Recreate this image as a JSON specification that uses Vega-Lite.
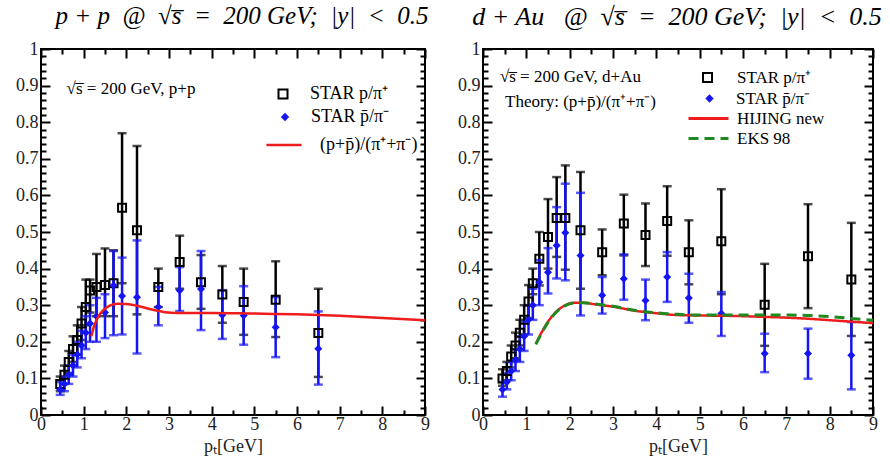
{
  "$schema": "https://vega.github.io/schema/vega-lite/v6.json",
  "background": "white",
  "padding": {"left": 14, "top": 3, "right": 5, "bottom": 5},
  "bounds": "flush",
  "spacing": 58,
  "datasets": {
    "ppBlack": [
      {"pt": 0.45, "r": 0.085, "lo": 0.065, "hi": 0.105, "series": "STAR p/π⁺"},
      {"pt": 0.55, "r": 0.11, "lo": 0.085, "hi": 0.135, "series": "STAR p/π⁺"},
      {"pt": 0.65, "r": 0.145, "lo": 0.115, "hi": 0.175, "series": "STAR p/π⁺"},
      {"pt": 0.75, "r": 0.18, "lo": 0.145, "hi": 0.215, "series": "STAR p/π⁺"},
      {"pt": 0.85, "r": 0.205, "lo": 0.165, "hi": 0.245, "series": "STAR p/π⁺"},
      {"pt": 0.95, "r": 0.25, "lo": 0.205, "hi": 0.295, "series": "STAR p/π⁺"},
      {"pt": 1.05, "r": 0.295, "lo": 0.245, "hi": 0.37, "series": "STAR p/π⁺"},
      {"pt": 1.15, "r": 0.34, "lo": 0.28, "hi": 0.37, "series": "STAR p/π⁺"},
      {"pt": 1.3, "r": 0.35, "lo": 0.27, "hi": 0.44, "series": "STAR p/π⁺"},
      {"pt": 1.5, "r": 0.355, "lo": 0.27, "hi": 0.455, "series": "STAR p/π⁺"},
      {"pt": 1.7, "r": 0.36, "lo": 0.27, "hi": 0.45, "series": "STAR p/π⁺"},
      {"pt": 1.9, "r": 0.566, "lo": 0.36, "hi": 0.77, "series": "STAR p/π⁺"},
      {"pt": 2.25, "r": 0.505, "lo": 0.275, "hi": 0.735, "series": "STAR p/π⁺"},
      {"pt": 2.75, "r": 0.35, "lo": 0.295, "hi": 0.4, "series": "STAR p/π⁺"},
      {"pt": 3.25, "r": 0.418, "lo": 0.345, "hi": 0.49, "series": "STAR p/π⁺"},
      {"pt": 3.75, "r": 0.363, "lo": 0.29, "hi": 0.437, "series": "STAR p/π⁺"},
      {"pt": 4.25, "r": 0.329, "lo": 0.252, "hi": 0.407, "series": "STAR p/π⁺"},
      {"pt": 4.75, "r": 0.309, "lo": 0.219, "hi": 0.4, "series": "STAR p/π⁺"},
      {"pt": 5.5, "r": 0.315, "lo": 0.213, "hi": 0.42, "series": "STAR p/π⁺"},
      {"pt": 6.5, "r": 0.224, "lo": 0.104, "hi": 0.345, "series": "STAR p/π⁺"}
    ],
    "ppBlue": [
      {"pt": 0.45, "r": 0.07, "lo": 0.055, "hi": 0.09, "series": "STAR p̄/π⁻"},
      {"pt": 0.55, "r": 0.085, "lo": 0.065, "hi": 0.105, "series": "STAR p̄/π⁻"},
      {"pt": 0.65, "r": 0.11, "lo": 0.085, "hi": 0.135, "series": "STAR p̄/π⁻"},
      {"pt": 0.75, "r": 0.135, "lo": 0.105, "hi": 0.165, "series": "STAR p̄/π⁻"},
      {"pt": 0.85, "r": 0.165, "lo": 0.13, "hi": 0.2, "series": "STAR p̄/π⁻"},
      {"pt": 0.95, "r": 0.19, "lo": 0.155, "hi": 0.23, "series": "STAR p̄/π⁻"},
      {"pt": 1.05, "r": 0.225, "lo": 0.18, "hi": 0.27, "series": "STAR p̄/π⁻"},
      {"pt": 1.15, "r": 0.25, "lo": 0.2, "hi": 0.3, "series": "STAR p̄/π⁻"},
      {"pt": 1.3, "r": 0.27, "lo": 0.2, "hi": 0.32, "series": "STAR p̄/π⁻"},
      {"pt": 1.5, "r": 0.28, "lo": 0.21, "hi": 0.33, "series": "STAR p̄/π⁻"},
      {"pt": 1.7, "r": 0.354, "lo": 0.218, "hi": 0.448, "series": "STAR p̄/π⁻"},
      {"pt": 1.9, "r": 0.325, "lo": 0.22, "hi": 0.43, "series": "STAR p̄/π⁻"},
      {"pt": 2.25, "r": 0.322, "lo": 0.168, "hi": 0.477, "series": "STAR p̄/π⁻"},
      {"pt": 2.75, "r": 0.295, "lo": 0.245, "hi": 0.35, "series": "STAR p̄/π⁻"},
      {"pt": 3.25, "r": 0.34, "lo": 0.284, "hi": 0.404, "series": "STAR p̄/π⁻"},
      {"pt": 3.75, "r": 0.344, "lo": 0.232, "hi": 0.448, "series": "STAR p̄/π⁻"},
      {"pt": 4.25, "r": 0.273, "lo": 0.208, "hi": 0.341, "series": "STAR p̄/π⁻"},
      {"pt": 4.75, "r": 0.272, "lo": 0.192, "hi": 0.352, "series": "STAR p̄/π⁻"},
      {"pt": 5.5, "r": 0.24, "lo": 0.158, "hi": 0.322, "series": "STAR p̄/π⁻"},
      {"pt": 6.5, "r": 0.181, "lo": 0.083, "hi": 0.283, "series": "STAR p̄/π⁻"}
    ],
    "ppCurve": [
      {"pt": 1.18, "r": 0.215, "series": "(p+p̄)/(π⁺+π⁻)"},
      {"pt": 1.25, "r": 0.245, "series": "(p+p̄)/(π⁺+π⁻)"},
      {"pt": 1.35, "r": 0.27, "series": "(p+p̄)/(π⁺+π⁻)"},
      {"pt": 1.45, "r": 0.285, "series": "(p+p̄)/(π⁺+π⁻)"},
      {"pt": 1.6, "r": 0.298, "series": "(p+p̄)/(π⁺+π⁻)"},
      {"pt": 1.8, "r": 0.304, "series": "(p+p̄)/(π⁺+π⁻)"},
      {"pt": 2.0, "r": 0.303, "series": "(p+p̄)/(π⁺+π⁻)"},
      {"pt": 2.3, "r": 0.297, "series": "(p+p̄)/(π⁺+π⁻)"},
      {"pt": 2.6, "r": 0.288, "series": "(p+p̄)/(π⁺+π⁻)"},
      {"pt": 2.9, "r": 0.281, "series": "(p+p̄)/(π⁺+π⁻)"},
      {"pt": 3.2, "r": 0.279, "series": "(p+p̄)/(π⁺+π⁻)"},
      {"pt": 3.6, "r": 0.279, "series": "(p+p̄)/(π⁺+π⁻)"},
      {"pt": 4.0, "r": 0.279, "series": "(p+p̄)/(π⁺+π⁻)"},
      {"pt": 5.0, "r": 0.277, "series": "(p+p̄)/(π⁺+π⁻)"},
      {"pt": 6.0, "r": 0.275, "series": "(p+p̄)/(π⁺+π⁻)"},
      {"pt": 7.0, "r": 0.271, "series": "(p+p̄)/(π⁺+π⁻)"},
      {"pt": 8.0, "r": 0.265, "series": "(p+p̄)/(π⁺+π⁻)"},
      {"pt": 9.0, "r": 0.259, "series": "(p+p̄)/(π⁺+π⁻)"}
    ],
    "daBlack": [
      {"pt": 0.45, "r": 0.1, "lo": 0.08, "hi": 0.125, "series": "STAR p/π⁺"},
      {"pt": 0.55, "r": 0.12, "lo": 0.095, "hi": 0.145, "series": "STAR p/π⁺"},
      {"pt": 0.65, "r": 0.16, "lo": 0.13, "hi": 0.19, "series": "STAR p/π⁺"},
      {"pt": 0.75, "r": 0.19, "lo": 0.155, "hi": 0.225, "series": "STAR p/π⁺"},
      {"pt": 0.85, "r": 0.225, "lo": 0.19, "hi": 0.26, "series": "STAR p/π⁺"},
      {"pt": 0.95, "r": 0.26, "lo": 0.22, "hi": 0.3, "series": "STAR p/π⁺"},
      {"pt": 1.05, "r": 0.31, "lo": 0.265, "hi": 0.355, "series": "STAR p/π⁺"},
      {"pt": 1.15, "r": 0.36, "lo": 0.33, "hi": 0.4, "series": "STAR p/π⁺"},
      {"pt": 1.3, "r": 0.427, "lo": 0.354, "hi": 0.5, "series": "STAR p/π⁺"},
      {"pt": 1.5, "r": 0.486, "lo": 0.4, "hi": 0.59, "series": "STAR p/π⁺"},
      {"pt": 1.7, "r": 0.538, "lo": 0.432, "hi": 0.65, "series": "STAR p/π⁺"},
      {"pt": 1.9, "r": 0.538, "lo": 0.397, "hi": 0.682, "series": "STAR p/π⁺"},
      {"pt": 2.25, "r": 0.505, "lo": 0.345, "hi": 0.664, "series": "STAR p/π⁺"},
      {"pt": 2.75, "r": 0.445, "lo": 0.382, "hi": 0.507, "series": "STAR p/π⁺"},
      {"pt": 3.25, "r": 0.523, "lo": 0.436, "hi": 0.602, "series": "STAR p/π⁺"},
      {"pt": 3.75, "r": 0.492, "lo": 0.407, "hi": 0.578, "series": "STAR p/π⁺"},
      {"pt": 4.25, "r": 0.53, "lo": 0.435, "hi": 0.625, "series": "STAR p/π⁺"},
      {"pt": 4.75, "r": 0.445, "lo": 0.357, "hi": 0.532, "series": "STAR p/π⁺"},
      {"pt": 5.5, "r": 0.475, "lo": 0.33, "hi": 0.617, "series": "STAR p/π⁺"},
      {"pt": 6.5, "r": 0.301, "lo": 0.189, "hi": 0.413, "series": "STAR p/π⁺"},
      {"pt": 7.5, "r": 0.434, "lo": 0.292, "hi": 0.576, "series": "STAR p/π⁺"},
      {"pt": 8.5, "r": 0.37, "lo": 0.216, "hi": 0.525, "series": "STAR p/π⁺"}
    ],
    "daBlue": [
      {"pt": 0.45, "r": 0.07, "lo": 0.05, "hi": 0.09, "series": "STAR p̄/π⁻"},
      {"pt": 0.55, "r": 0.09, "lo": 0.07, "hi": 0.115, "series": "STAR p̄/π⁻"},
      {"pt": 0.65, "r": 0.12, "lo": 0.095, "hi": 0.145, "series": "STAR p̄/π⁻"},
      {"pt": 0.75, "r": 0.15, "lo": 0.12, "hi": 0.18, "series": "STAR p̄/π⁻"},
      {"pt": 0.85, "r": 0.18, "lo": 0.145, "hi": 0.215, "series": "STAR p̄/π⁻"},
      {"pt": 0.95, "r": 0.215, "lo": 0.175, "hi": 0.255, "series": "STAR p̄/π⁻"},
      {"pt": 1.05, "r": 0.26, "lo": 0.22, "hi": 0.3, "series": "STAR p̄/π⁻"},
      {"pt": 1.15, "r": 0.3, "lo": 0.26, "hi": 0.345, "series": "STAR p̄/π⁻"},
      {"pt": 1.3, "r": 0.363, "lo": 0.3, "hi": 0.423, "series": "STAR p̄/π⁻"},
      {"pt": 1.5, "r": 0.39, "lo": 0.332, "hi": 0.456, "series": "STAR p̄/π⁻"},
      {"pt": 1.7, "r": 0.463, "lo": 0.373, "hi": 0.568, "series": "STAR p̄/π⁻"},
      {"pt": 1.9, "r": 0.498, "lo": 0.368, "hi": 0.632, "series": "STAR p̄/π⁻"},
      {"pt": 2.25, "r": 0.436, "lo": 0.272, "hi": 0.607, "series": "STAR p̄/π⁻"},
      {"pt": 2.75, "r": 0.327, "lo": 0.277, "hi": 0.377, "series": "STAR p̄/π⁻"},
      {"pt": 3.25, "r": 0.372, "lo": 0.315, "hi": 0.439, "series": "STAR p̄/π⁻"},
      {"pt": 3.75, "r": 0.313, "lo": 0.259, "hi": 0.37, "series": "STAR p̄/π⁻"},
      {"pt": 4.25, "r": 0.377, "lo": 0.309, "hi": 0.445, "series": "STAR p̄/π⁻"},
      {"pt": 4.75, "r": 0.32, "lo": 0.252, "hi": 0.386, "series": "STAR p̄/π⁻"},
      {"pt": 5.5, "r": 0.277, "lo": 0.216, "hi": 0.336, "series": "STAR p̄/π⁻"},
      {"pt": 6.5, "r": 0.168, "lo": 0.117, "hi": 0.222, "series": "STAR p̄/π⁻"},
      {"pt": 7.5, "r": 0.168, "lo": 0.099, "hi": 0.236, "series": "STAR p̄/π⁻"},
      {"pt": 8.5, "r": 0.163, "lo": 0.07, "hi": 0.254, "series": "STAR p̄/π⁻"}
    ],
    "daHijing": [
      {"pt": 1.22, "r": 0.195, "series": "HIJING new"},
      {"pt": 1.35, "r": 0.225, "series": "HIJING new"},
      {"pt": 1.5, "r": 0.255, "series": "HIJING new"},
      {"pt": 1.7, "r": 0.283, "series": "HIJING new"},
      {"pt": 1.9, "r": 0.3, "series": "HIJING new"},
      {"pt": 2.1, "r": 0.307, "series": "HIJING new"},
      {"pt": 2.3, "r": 0.307, "series": "HIJING new"},
      {"pt": 2.6, "r": 0.302, "series": "HIJING new"},
      {"pt": 3.0, "r": 0.296, "series": "HIJING new"},
      {"pt": 3.5, "r": 0.285, "series": "HIJING new"},
      {"pt": 4.0, "r": 0.278, "series": "HIJING new"},
      {"pt": 4.5, "r": 0.273, "series": "HIJING new"},
      {"pt": 5.0, "r": 0.272, "series": "HIJING new"},
      {"pt": 6.0, "r": 0.27, "series": "HIJING new"},
      {"pt": 6.5, "r": 0.268, "series": "HIJING new"},
      {"pt": 7.0, "r": 0.266, "series": "HIJING new"},
      {"pt": 7.5, "r": 0.263, "series": "HIJING new"},
      {"pt": 8.0, "r": 0.259, "series": "HIJING new"},
      {"pt": 8.5, "r": 0.255, "series": "HIJING new"},
      {"pt": 9.0, "r": 0.251, "series": "HIJING new"}
    ],
    "daEks": [
      {"pt": 1.22, "r": 0.193, "series": "EKS 98"},
      {"pt": 1.35, "r": 0.223, "series": "EKS 98"},
      {"pt": 1.5, "r": 0.253, "series": "EKS 98"},
      {"pt": 1.7, "r": 0.282, "series": "EKS 98"},
      {"pt": 1.9, "r": 0.299, "series": "EKS 98"},
      {"pt": 2.1, "r": 0.306, "series": "EKS 98"},
      {"pt": 2.3, "r": 0.307, "series": "EKS 98"},
      {"pt": 2.6, "r": 0.303, "series": "EKS 98"},
      {"pt": 3.0, "r": 0.297, "series": "EKS 98"},
      {"pt": 3.5, "r": 0.286, "series": "EKS 98"},
      {"pt": 4.0, "r": 0.279, "series": "EKS 98"},
      {"pt": 4.5, "r": 0.275, "series": "EKS 98"},
      {"pt": 5.0, "r": 0.273, "series": "EKS 98"},
      {"pt": 6.0, "r": 0.273, "series": "EKS 98"},
      {"pt": 7.0, "r": 0.273, "series": "EKS 98"},
      {"pt": 7.5, "r": 0.272, "series": "EKS 98"},
      {"pt": 8.0, "r": 0.269, "series": "EKS 98"},
      {"pt": 8.5, "r": 0.264, "series": "EKS 98"},
      {"pt": 9.0, "r": 0.259, "series": "EKS 98"}
    ]
  },
  "hconcat": [
    {
      "width": 384,
      "height": 366,
      "title": {"text": "p + p\u2002@\u2002√s̅\u2002=\u2002200 GeV;\u2002|y|\u2002<\u20020.5", "font": "Liberation Serif", "fontSize": 25, "fontStyle": "italic", "fontWeight": "normal", "color": "black", "offset": 11, "anchor": "middle", "frame": "group", "dx": 9},
      "resolve": {"axis": {"x": "independent", "y": "independent"}},
      "layer": [
        {
          "data": {"name": "ppBlack"},
          "mark": {"type": "errorbar", "ticks": true, "size": 9, "thickness": 2.5, "color": "black"},
          "encoding": {
            "x": {"field": "pt", "type": "quantitative", "scale": {"domain": [0, 9], "nice": false, "padding": 0, "zero": false},
              "axis": {"orient": "bottom", "title": "pₜ[GeV]", "values": [0,0.5,1,1.5,2,2.5,3,3.5,4,4.5,5,5.5,6,6.5,7,7.5,8,8.5,9], "format": "~g",
                "labelExpr": "datum.value % 1 === 0 ? datum.label : ''", "labelFlush": false, "labelOverlap": false, "labelPadding": 9,
                "tickSize": {"condition": {"test": "datum.value % 1 === 0", "value": -9}, "value": -5}, "titlePadding": 0}},
            "y": {"field": "lo", "type": "quantitative", "scale": {"domain": [0, 1], "nice": false, "padding": 0},
              "axis": {"orient": "left", "title": null, "values": [0,0.02,0.04,0.06,0.08,0.1,0.12,0.14,0.16,0.18,0.2,0.22,0.24,0.26,0.28,0.3,0.32,0.34,0.36,0.38,0.4,0.42,0.44,0.46,0.48,0.5,0.52,0.54,0.56,0.58,0.6,0.62,0.64,0.66,0.68,0.7,0.72,0.74,0.76,0.78,0.8,0.82,0.84,0.86,0.88,0.9,0.92,0.94,0.96,0.98,1],
                "labelExpr": "abs(datum.value*10 - round(datum.value*10)) < 0.001 ? format(round(datum.value*10)/10, '~g') : ''", "labelFlush": false, "labelOverlap": false, "labelPadding": 12,
                "tickSize": {"condition": {"test": "abs(datum.value*10 - round(datum.value*10)) < 0.001", "value": -9}, "value": -5}}},
            "y2": {"field": "hi"}
          }
        },
        {
          "data": {"name": "ppBlue"},
          "mark": {"type": "errorbar", "ticks": true, "size": 9, "thickness": 2.5, "color": "#1414f5"},
          "encoding": {
            "x": {"field": "pt", "type": "quantitative",
              "axis": {"orient": "top", "title": null, "labels": false, "values": [0,0.5,1,1.5,2,2.5,3,3.5,4,4.5,5,5.5,6,6.5,7,7.5,8,8.5,9],
                "tickSize": {"condition": {"test": "datum.value % 1 === 0", "value": -9}, "value": -5}}},
            "y": {"field": "lo", "type": "quantitative",
              "axis": {"orient": "right", "title": null, "labels": false, "values": [0,0.02,0.04,0.06,0.08,0.1,0.12,0.14,0.16,0.18,0.2,0.22,0.24,0.26,0.28,0.3,0.32,0.34,0.36,0.38,0.4,0.42,0.44,0.46,0.48,0.5,0.52,0.54,0.56,0.58,0.6,0.62,0.64,0.66,0.68,0.7,0.72,0.74,0.76,0.78,0.8,0.82,0.84,0.86,0.88,0.9,0.92,0.94,0.96,0.98,1],
                "tickSize": {"condition": {"test": "abs(datum.value*10 - round(datum.value*10)) < 0.001", "value": -9}, "value": -5}}},
            "y2": {"field": "hi"}
          }
        },
        {
          "data": {"name": "ppBlack"},
          "mark": {"type": "point", "shape": "square", "filled": false, "strokeWidth": 2, "size": 64, "opacity": 1},
          "encoding": {
            "x": {"field": "pt", "type": "quantitative", "axis": null},
            "y": {"field": "r", "type": "quantitative", "axis": null},
            "stroke": {"field": "series", "type": "nominal",
              "scale": {"domain": ["STAR p/π⁺"], "range": ["black"]},
              "legend": {"orient": "none", "legendX": 233, "legendY": 36, "title": null, "padding": 0, "symbolType": "square", "symbolSize": 81, "symbolStrokeWidth": 2, "symbolFillColor": "white", "labelOffset": 18, "labelFont": "Liberation Serif", "labelFontSize": 18, "labelColor": "black", "labelLimit": 300}}
          }
        },
        {
          "data": {"name": "ppBlue"},
          "mark": {"type": "point", "shape": "diamond", "filled": true, "size": 64, "opacity": 1},
          "encoding": {
            "x": {"field": "pt", "type": "quantitative", "axis": null},
            "y": {"field": "r", "type": "quantitative", "axis": null},
            "fill": {"field": "series", "type": "nominal",
              "scale": {"domain": ["STAR p̄/π⁻"], "range": ["#1414f5"]},
              "legend": {"orient": "none", "legendX": 235, "legendY": 59, "title": null, "padding": 0, "symbolType": "diamond", "symbolSize": 70, "symbolStrokeWidth": 0, "labelOffset": 17, "labelFont": "Liberation Serif", "labelFontSize": 18, "labelColor": "black", "labelLimit": 300}}
          }
        },
        {
          "data": {"name": "ppCurve"},
          "mark": {"type": "line", "strokeWidth": 2.5, "interpolate": "monotone"},
          "encoding": {
            "x": {"field": "pt", "type": "quantitative", "axis": null},
            "y": {"field": "r", "type": "quantitative", "axis": null},
            "color": {"field": "series", "type": "nominal",
              "scale": {"domain": ["(p+p̄)/(π⁺+π⁻)"], "range": ["#ee1c1c"]},
              "legend": {"orient": "none", "legendX": 234, "legendY": 87, "title": null, "padding": 0, "symbolType": "M-4.4,0H4.4", "symbolSize": 64, "symbolStrokeWidth": 2.5, "labelOffset": 27, "labelFont": "Liberation Serif", "labelFontSize": 18, "labelColor": "black", "labelLimit": 300}}
          }
        },
        {
          "data": {"values": [{}]},
          "mark": {"type": "text", "text": "√s̅ = 200 GeV, p+p", "align": "left", "baseline": "middle", "font": "Liberation Serif", "fontSize": 17, "color": "black"},
          "encoding": {
            "x": {"datum": 0.6, "type": "quantitative", "axis": null},
            "y": {"datum": 0.892, "type": "quantitative", "axis": null}
          }
        }
      ]
    },
    {
      "width": 390,
      "height": 366,
      "title": {"text": "d + Au\u2002 @\u2002√s̅\u2002=\u2002200 GeV;\u2002|y|\u2002<\u20020.5", "font": "Liberation Serif", "fontSize": 26, "fontStyle": "italic", "fontWeight": "normal", "color": "black", "offset": 10, "anchor": "middle", "frame": "group", "dx": -1},
      "resolve": {"axis": {"x": "independent", "y": "independent"}},
      "layer": [
        {
          "data": {"name": "daBlack"},
          "mark": {"type": "errorbar", "ticks": true, "size": 9, "thickness": 2.5, "color": "black"},
          "encoding": {
            "x": {"field": "pt", "type": "quantitative", "scale": {"domain": [0, 9], "nice": false, "padding": 0, "zero": false},
              "axis": {"orient": "bottom", "title": "pₜ[GeV]", "values": [0,0.5,1,1.5,2,2.5,3,3.5,4,4.5,5,5.5,6,6.5,7,7.5,8,8.5,9], "format": "~g",
                "labelExpr": "datum.value % 1 === 0 ? datum.label : ''", "labelFlush": false, "labelOverlap": false, "labelPadding": 9,
                "tickSize": {"condition": {"test": "datum.value % 1 === 0", "value": -9}, "value": -5}, "titlePadding": 0}},
            "y": {"field": "lo", "type": "quantitative", "scale": {"domain": [0, 1], "nice": false, "padding": 0},
              "axis": {"orient": "left", "title": null, "values": [0,0.02,0.04,0.06,0.08,0.1,0.12,0.14,0.16,0.18,0.2,0.22,0.24,0.26,0.28,0.3,0.32,0.34,0.36,0.38,0.4,0.42,0.44,0.46,0.48,0.5,0.52,0.54,0.56,0.58,0.6,0.62,0.64,0.66,0.68,0.7,0.72,0.74,0.76,0.78,0.8,0.82,0.84,0.86,0.88,0.9,0.92,0.94,0.96,0.98,1],
                "labelExpr": "abs(datum.value*10 - round(datum.value*10)) < 0.001 ? format(round(datum.value*10)/10, '~g') : ''", "labelFlush": false, "labelOverlap": false, "labelPadding": 12,
                "tickSize": {"condition": {"test": "abs(datum.value*10 - round(datum.value*10)) < 0.001", "value": -9}, "value": -5}}},
            "y2": {"field": "hi"}
          }
        },
        {
          "data": {"name": "daBlue"},
          "mark": {"type": "errorbar", "ticks": true, "size": 9, "thickness": 2.5, "color": "#1414f5"},
          "encoding": {
            "x": {"field": "pt", "type": "quantitative",
              "axis": {"orient": "top", "title": null, "labels": false, "values": [0,0.5,1,1.5,2,2.5,3,3.5,4,4.5,5,5.5,6,6.5,7,7.5,8,8.5,9],
                "tickSize": {"condition": {"test": "datum.value % 1 === 0", "value": -9}, "value": -5}}},
            "y": {"field": "lo", "type": "quantitative",
              "axis": {"orient": "right", "title": null, "labels": false, "values": [0,0.02,0.04,0.06,0.08,0.1,0.12,0.14,0.16,0.18,0.2,0.22,0.24,0.26,0.28,0.3,0.32,0.34,0.36,0.38,0.4,0.42,0.44,0.46,0.48,0.5,0.52,0.54,0.56,0.58,0.6,0.62,0.64,0.66,0.68,0.7,0.72,0.74,0.76,0.78,0.8,0.82,0.84,0.86,0.88,0.9,0.92,0.94,0.96,0.98,1],
                "tickSize": {"condition": {"test": "abs(datum.value*10 - round(datum.value*10)) < 0.001", "value": -9}, "value": -5}}},
            "y2": {"field": "hi"}
          }
        },
        {
          "data": {"name": "daBlack"},
          "mark": {"type": "point", "shape": "square", "filled": false, "strokeWidth": 2, "size": 64, "opacity": 1},
          "encoding": {
            "x": {"field": "pt", "type": "quantitative", "axis": null},
            "y": {"field": "r", "type": "quantitative", "axis": null},
            "stroke": {"field": "series", "type": "nominal",
              "scale": {"domain": ["STAR p/π⁺"], "range": ["black"]},
              "legend": {"orient": "none", "legendX": 216, "legendY": 20, "title": null, "padding": 0, "symbolType": "square", "symbolSize": 81, "symbolStrokeWidth": 2, "symbolFillColor": "white", "labelOffset": 21, "labelFont": "Liberation Serif", "labelFontSize": 17, "labelColor": "black", "labelLimit": 300}}
          }
        },
        {
          "data": {"name": "daBlue"},
          "mark": {"type": "point", "shape": "diamond", "filled": true, "size": 64, "opacity": 1},
          "encoding": {
            "x": {"field": "pt", "type": "quantitative", "axis": null},
            "y": {"field": "r", "type": "quantitative", "axis": null},
            "fill": {"field": "series", "type": "nominal",
              "scale": {"domain": ["STAR p̄/π⁻"], "range": ["#1414f5"]},
              "legend": {"orient": "none", "legendX": 218, "legendY": 41, "title": null, "padding": 0, "symbolType": "diamond", "symbolSize": 70, "symbolStrokeWidth": 0, "labelOffset": 18, "labelFont": "Liberation Serif", "labelFontSize": 17, "labelColor": "black", "labelLimit": 300}}
          }
        },
        {
          "data": {"name": "daHijing"},
          "mark": {"type": "line", "strokeWidth": 2.5, "interpolate": "monotone"},
          "encoding": {
            "x": {"field": "pt", "type": "quantitative", "axis": null},
            "y": {"field": "r", "type": "quantitative", "axis": null},
            "color": {"field": "series", "type": "nominal",
              "scale": {"domain": ["HIJING new", "EKS 98"], "range": ["#ee1c1c", "#1f8a1f"]},
              "legend": {"orient": "none", "legendX": 217, "legendY": 61, "title": null, "padding": 0, "rowPadding": 2, "symbolType": "M-5,0H5", "symbolSize": 64, "symbolStrokeWidth": 3, "labelOffset": 20, "labelFont": "Liberation Serif", "labelFontSize": 17, "labelColor": "black", "labelLimit": 300}},
            "strokeDash": {"field": "series", "type": "nominal",
              "scale": {"domain": ["HIJING new", "EKS 98"], "range": [[1, 0], [10, 6]]},
              "legend": {"orient": "none", "legendX": 217, "legendY": 61, "title": null, "padding": 0, "rowPadding": 2, "symbolType": "M-5,0H5", "symbolSize": 64, "symbolStrokeWidth": 3, "labelOffset": 20, "labelFont": "Liberation Serif", "labelFontSize": 17, "labelColor": "black", "labelLimit": 300}}
          }
        },
        {
          "data": {"name": "daEks"},
          "mark": {"type": "line", "strokeWidth": 3, "interpolate": "monotone"},
          "encoding": {
            "x": {"field": "pt", "type": "quantitative", "axis": null},
            "y": {"field": "r", "type": "quantitative", "axis": null},
            "color": {"field": "series", "type": "nominal"},
            "strokeDash": {"field": "series", "type": "nominal"}
          }
        },
        {
          "data": {"values": [{}]},
          "mark": {"type": "text", "text": "√s̅ = 200 GeV, d+Au", "align": "left", "baseline": "middle", "font": "Liberation Serif", "fontSize": 17, "color": "black"},
          "encoding": {
            "x": {"datum": 0.39, "type": "quantitative", "axis": null},
            "y": {"datum": 0.923, "type": "quantitative", "axis": null}
          }
        },
        {
          "data": {"values": [{}]},
          "mark": {"type": "text", "text": "Theory:  (p+p̄)/(π⁺+π⁻)", "align": "left", "baseline": "middle", "font": "Liberation Serif", "fontSize": 17, "color": "black"},
          "encoding": {
            "x": {"datum": 0.51, "type": "quantitative", "axis": null},
            "y": {"datum": 0.855, "type": "quantitative", "axis": null}
          }
        }
      ]
    }
  ],
  "resolve": {
    "scale": {"x": "independent", "y": "independent", "color": "independent", "fill": "independent", "stroke": "independent", "strokeDash": "independent"},
    "legend": {"color": "independent", "fill": "independent", "stroke": "independent", "strokeDash": "independent"}
  },
  "config": {
    "font": "Liberation Serif",
    "view": {"stroke": "black", "strokeWidth": 2},
    "scale": {"continuousPadding": 0},
    "axis": {"domain": false, "grid": false, "labelFont": "Liberation Serif", "labelFontSize": 18, "labelColor": "#222222", "tickColor": "black", "tickWidth": 2, "titleFont": "Liberation Serif", "titleFontSize": 18, "titleFontWeight": "normal", "titleColor": "#222222"}
  }
}
